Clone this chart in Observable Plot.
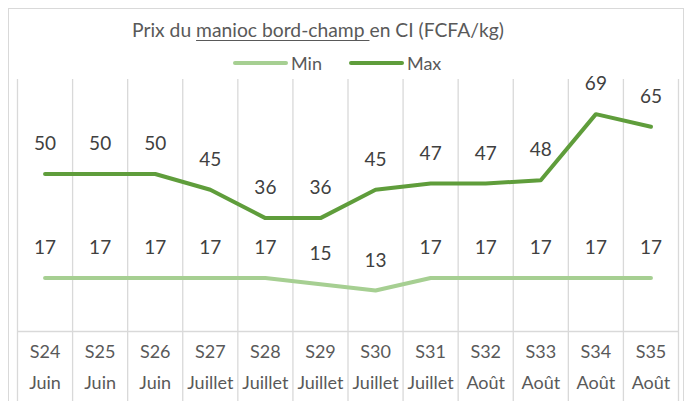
<!DOCTYPE html>
<html>
<head>
<meta charset="utf-8">
<script src="https://cdn.jsdelivr.net/npm/d3@7"></script>
<script src="https://cdn.jsdelivr.net/npm/@observablehq/plot@0.6"></script>
<style>
  html, body { margin: 0; padding: 0; background: #fff; }
  body { width: 693px; height: 401px; position: relative; overflow: hidden; font-family: Lato, "Open Sans", sans-serif; color: #595959; }
  #frame { position: absolute; left: 8px; top: 8px; width: 676px; height: 420px; border: 1.5px solid #d9d9d9; box-sizing: border-box; }
  #title { position: absolute; left: 132px; top: 18px; white-space: nowrap; font-size: 19.3px; line-height: 24px; }
  #title u { text-decoration-thickness: 1px; text-underline-offset: 3px; }
  #legend { position: absolute; left: 233px; top: 51px; white-space: nowrap; font-size: 18px; height: 24px; display: flex; align-items: center; }
  .item { display: inline-flex; align-items: center; margin-right: 27px; }
  .sw { display: inline-block; width: 55px; height: 4px; border-radius: 2px; margin-right: 3px; }
  #chart { position: absolute; left: 0; top: 72px; }
</style>
</head>
<body>
<div id="frame"></div>
<div id="title"></div>
<div id="legend"></div>
<div id="chart"></div>
<script>
const weeks = ["S24","S25","S26","S27","S28","S29","S30","S31","S32","S33","S34","S35"];
const months = ["Juin","Juin","Juin","Juillet","Juillet","Juillet","Juillet","Juillet","Août","Août","Août","Août"];
const minValues = [17,17,17,17,17,15,13,17,17,17,17,17];
const maxValues = [50,50,50,45,36,36,45,47,47,48,69,65];
const seriesNames = ["Min","Max"];
const seriesColors = ["#a6cf92","#5f9d3b"];
const titleParts = ["Prix du ", "manioc bord-champ ", "en CI (FCFA/kg)"];

document.getElementById("title").innerHTML = titleParts[0] + "<u>" + titleParts[1] + "</u>" + titleParts[2];
document.getElementById("legend").innerHTML = seriesNames.map((n, i) =>
  `<span class="item"><span class="sw" style="background:${seriesColors[i]}"></span>${n}</span>`).join("");

const rows = [];
weeks.forEach((w, i) => {
  rows.push({i, week: w, series: "Min", value: minValues[i]});
  rows.push({i, week: w, series: "Max", value: maxValues[i]});
});
const cats = weeks.map((w, i) => ({i, week: w, month: months[i]}));
const bounds = d3.range(weeks.length + 1).map(k => k - 0.5);

const fontFamily = "Lato, 'Open Sans', sans-serif";
const chart = Plot.plot({
  width: 693,
  height: 329,
  marginLeft: 17,
  marginRight: 15,
  marginTop: 7,
  marginBottom: 70,
  style: {fontFamily, background: "transparent", overflow: "visible"},
  x: {type: "linear", domain: [-0.5, weeks.length - 0.5], axis: null},
  y: {domain: [0, 80], axis: null},
  color: {domain: seriesNames, range: seriesColors},
  marks: [
    Plot.ruleX(bounds, {x: d => d, stroke: "#d9d9d9", strokeWidth: 1.3, insetBottom: -75}),
    Plot.ruleY([0], {stroke: "#d9d9d9", strokeWidth: 1.3}),
    Plot.line(rows, {x: "i", y: "value", z: "series", stroke: "series", strokeWidth: 4, strokeLinecap: "round", strokeLinejoin: "round"}),
    Plot.text(rows, {x: "i", y: "value", text: d => String(d.value), dy: -30, fill: "#404040", fontSize: 19}),
    Plot.text(cats, {x: "i", y: () => 0, text: "week", dy: 21, fill: "#595959", fontSize: 18}),
    Plot.text(cats, {x: "i", y: () => 0, text: "month", dy: 52, fill: "#595959", fontSize: 18})
  ]
});
document.getElementById("chart").appendChild(chart);
</script>
</body>
</html>
